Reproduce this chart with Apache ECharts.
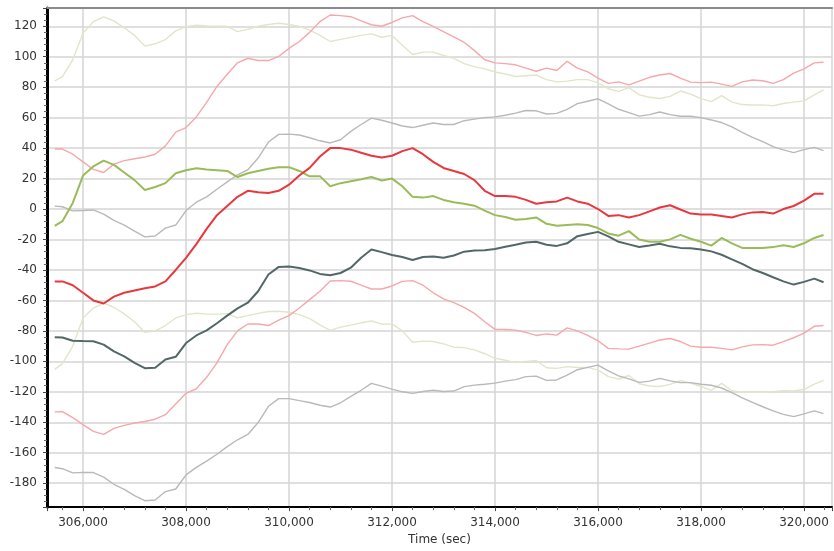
<!DOCTYPE html>
<html>
<head>
<meta charset="utf-8">
<script src="https://cdn.jsdelivr.net/npm/echarts@6/dist/echarts.min.js"></script>
<style>
html,body{margin:0;padding:0;background:#fff;}
#chart{width:834px;height:551px;}
</style>
</head>
<body>
<div id="chart"></div>
<script>
const times = [305450,305600,305800,306000,306200,306400,306600,306800,307000,307200,307400,307600,307800,
308000,308200,308400,308600,308800,309000,309200,309400,309600,309800,
310000,310200,310400,310600,310800,311000,311200,311400,311600,311800,
312000,312200,312400,312600,312800,313000,313200,313400,313600,313800,
314000,314200,314400,314600,314800,315000,315200,315400,315600,315800,
316000,316200,316400,316600,316800,317000,317200,317400,317600,317800,
318000,318200,318400,318600,318800,319000,319200,319400,319600,319800,
320000,320200,320380];

const redMid = [-47.5,-47.5,-50,-55,-60,-62,-57.5,-55,-53.5,-52,-50.8,-47.5,-40,
-32,-23,-13,-4,2,8,12,11,10.5,12,
16,22,27,34.5,40,40,39,37,35,33.8,
35,38,40,36,31,27,25,23,19,12,
8.5,8.5,8,6,3.5,4.5,5,7.5,5,3.5,
0,-4.5,-4,-5.5,-4,-1.5,1,2.5,-0.3,-3,
-3.6,-3.6,-4.5,-5.5,-3.5,-2.2,-2,-3,0,2,
5.5,10,10];

const redUpper = [39.4,39.4,36,31,26,24,29.5,31.8,33,34.2,36,41.5,50.5,
53.5,60.5,70,80.5,88.5,96,99,97.5,97.5,100.2,
105.5,110,116,123,127.4,127,126.3,123.5,121,120,
122.5,125.5,127,123,120,116.5,113,109.5,104,98,
96,95.5,94.7,92.5,90.5,92.5,91,97,92.5,90,
86,82.5,83.5,81.5,84,86.5,88,89,86,83.3,
83,83.3,82,80.5,83.5,84.7,84.2,82.5,85,89.2,
92,96,96.4];

const redLower = [-133.2,-133,-137,-141.5,-146,-148,-144,-142,-140.5,-139.5,-138,-135,-128,
-121,-118,-110.5,-101,-89,-80,-75.5,-75.5,-76.5,-73,
-70,-65,-59.5,-54,-47.2,-47,-47.4,-50,-52.5,-52.5,
-50.5,-47.5,-47,-50,-55,-59,-61.5,-64.5,-68.5,-74,
-79,-79.1,-79.5,-81,-83,-82,-82.8,-78,-80,-83,
-86.5,-91.5,-91.8,-92,-90,-88,-86,-85,-87,-90,
-90.7,-90.7,-91.5,-92.5,-90.5,-89.2,-89,-89.4,-87,-84.5,
-81.5,-77,-76.5];

const greenMid = [-11,-8,4,22,28,31.8,29,24,19,12.5,14.5,17,23.5,
25.5,26.8,26,25.5,25,21,23.5,25,26.5,27.5,
27.5,25,21.5,21.6,15,17,18.3,19.5,21,18.7,
20,15,8,7.5,8.5,6,4.5,3.5,2.2,-1,
-4,-5.2,-7,-6.5,-5.5,-9.7,-11,-10.5,-10,-10.5,
-12.5,-16,-17.5,-14.5,-20,-21.5,-21.5,-19.9,-17,-19.5,
-21.5,-24,-19,-22.5,-25.5,-25.6,-25.5,-25,-23.8,-24.9,
-22.5,-19,-17];

const greenUpper = [84.2,87,98,115.5,123,126.2,123.5,119,114,107,108.5,111.3,117,
119.8,120.7,120.2,120,120,116.5,118,120,121.2,122,
121.2,119.9,117.5,114,110,111.4,112.7,114,115,112.8,
114,107.5,101.5,103,103,100.8,99,95.5,93.5,92,
90,88.7,87,87.5,88,85,83.5,84,85,85,
82.8,79,77.3,79.7,75,73.4,72.6,74,77.5,75.5,
72.5,70.5,74.5,70.2,68.6,68.3,68.4,67.8,69.3,70.2,
71,75,78.3];

const greenLower = [-105.3,-101.5,-90,-71.5,-65,-61.7,-64.5,-68.8,-74,-81,-80,-76.5,-71.5,
-69.3,-68.4,-69,-69,-68.7,-71.4,-70,-68.5,-67.3,-67.1,
-67.8,-69.3,-72,-76,-79.7,-77.5,-76.2,-74.7,-73.5,-75.6,
-75.4,-80,-87.5,-86.7,-87,-88.5,-90.7,-91,-92.5,-95,
-98,-99.3,-100.8,-100,-99.5,-104.2,-104.6,-103.5,-104,-104,
-105.8,-110,-111.6,-109.3,-114.7,-116.2,-116.5,-115.1,-112.6,-114.3,
-116.5,-119,-114.5,-119.3,-120.3,-120.4,-120.3,-120,-119.2,-119.4,
-118.5,-115,-112.5];

const slateMid = [-84.1,-84.3,-86.5,-86.7,-86.8,-89,-93.5,-96.7,-101,-104.5,-104.2,-98.8,-97,
-88,-83,-79.7,-75,-70,-65.2,-61.5,-54,-43,-38,
-37.8,-38.7,-40.3,-42.6,-43.5,-42,-38.5,-32,-26.6,-28.3,
-30.2,-31.5,-33.5,-31.5,-31.1,-32,-30.5,-28,-27.2,-27,
-26.3,-24.8,-23.4,-22,-21.5,-23.5,-24.2,-22.5,-17.8,-16.4,
-15,-18,-21.5,-23.2,-24.9,-24,-22.8,-24.5,-25.5,-25.8,
-26.6,-27.8,-30,-33,-36,-39.5,-42,-44.8,-47.5,-49.6,
-47.8,-45.7,-48.1];

const slateUpper = [1.9,1.5,-1.2,-1,-0.6,-3.3,-7.5,-10.5,-14.5,-18.3,-17.7,-12.5,-10.5,
-1,4.5,8,13,17.8,22.5,25.8,33.5,44,49,
49.2,48.6,46.8,44.8,43.4,45.5,51,55.5,59.7,58.3,
56.5,54.5,53.5,55,56.5,55.5,55.5,58,59,60,
60.5,61.6,63,64.7,64.5,62.4,62.8,65.5,69.2,70.8,
72.4,69,65.5,63.3,61,62,63.7,62,60.9,60.9,
60,58.5,56.8,54,50.3,47,44.2,41,38.8,37,
39,40.5,38.3];

const slateLower = [-169.7,-170.5,-173.2,-172.9,-173,-176,-180.7,-184,-188.2,-191.5,-191,-185.5,-183.8,
-174.5,-169.6,-165.5,-161,-156,-151.5,-148,-140.2,-129.5,-124.5,
-124.5,-125.8,-127,-128.8,-130,-127.2,-123,-119,-114.5,-116.3,
-118.2,-120,-121,-119.8,-119,-119.8,-119.5,-116.6,-115.6,-115,
-114.3,-113,-112,-110,-109.7,-112.5,-112.2,-109,-105.5,-104,
-102.5,-106.3,-109.5,-111.5,-113.8,-113,-111.2,-112.8,-114,-114,
-115,-115.7,-117.5,-120.5,-124,-127,-129.8,-132.5,-134.8,-136.3,
-134.5,-132.5,-134.3];

const xTitle = 'Time (sec)';

function pairs(vals){ return times.map((t,i)=>[t, vals[i]]); }
function line(name, vals, color, width){
  return {name:name, type:'line', data:pairs(vals), showSymbol:false, symbol:'none',
    lineStyle:{color:color, width:width}, itemStyle:{color:color}, animation:false};
}

const chart = echarts.init(document.getElementById('chart'), null, {renderer:'canvas'});
const labelFont = {fontFamily:'DejaVu Sans', fontSize:12, color:'#333'};
chart.setOption({
  backgroundColor:'#fff',
  animation:false,
  grid:{left:47, right:2, top:8, bottom:42, containLabel:false},
  xAxis:[{
    type:'value', min:305300, max:320544, splitNumber:7,
    name:xTitle, nameLocation:'middle', nameGap:25,
    nameTextStyle:{fontFamily:'DejaVu Sans', fontSize:12, color:'#333'},
    axisLine:{show:true, onZero:false, lineStyle:{color:'#000', width:2}},
    axisTick:{show:true, length:4, lineStyle:{color:'#444'}},
    minorTick:{show:true, splitNumber:5, length:3, lineStyle:{color:'#666'}},
    axisLabel:Object.assign({margin:10, showMinLabel:false, showMaxLabel:false,
      formatter:v=>v.toLocaleString('en-US')}, labelFont),
    splitLine:{show:true, lineStyle:{color:'#d4d4d4', width:1.5}}
  },{
    type:'value', position:'top', min:305300, max:320544,
    axisLine:{show:true, onZero:false, lineStyle:{color:'#8a8a8a', width:2}},
    axisTick:{show:false}, axisLabel:{show:false}, splitLine:{show:false}
  }],
  yAxis:{
    type:'value', min:-195.7, max:132, splitNumber:16,
    axisLine:{show:true, onZero:false, lineStyle:{color:'#000', width:3}},
    axisTick:{show:true, length:4, lineStyle:{color:'#444'}},
    minorTick:{show:true, splitNumber:5, length:3, lineStyle:{color:'#666'}},
    axisLabel:Object.assign({margin:10, showMinLabel:false, showMaxLabel:false}, labelFont),
    splitLine:{show:true, lineStyle:{color:'#d4d4d4', width:1.5}}
  },
  series:[
    line('greenUpper', greenUpper, '#dfe7c9', 1.4),
    line('greenLower', greenLower, '#dfe7c9', 1.4),
    line('slateUpper', slateUpper, '#b9b9bd', 1.4),
    line('slateLower', slateLower, '#b9b9bd', 1.4),
    line('redUpper', redUpper, '#f6a7ab', 1.4),
    line('redLower', redLower, '#f6a7ab', 1.4),
    line('greenMid', greenMid, '#9bbb59', 2),
    line('slateMid', slateMid, '#536767', 2),
    line('redMid', redMid, '#e8383f', 2)
  ]
});
</script>
</body>
</html>
